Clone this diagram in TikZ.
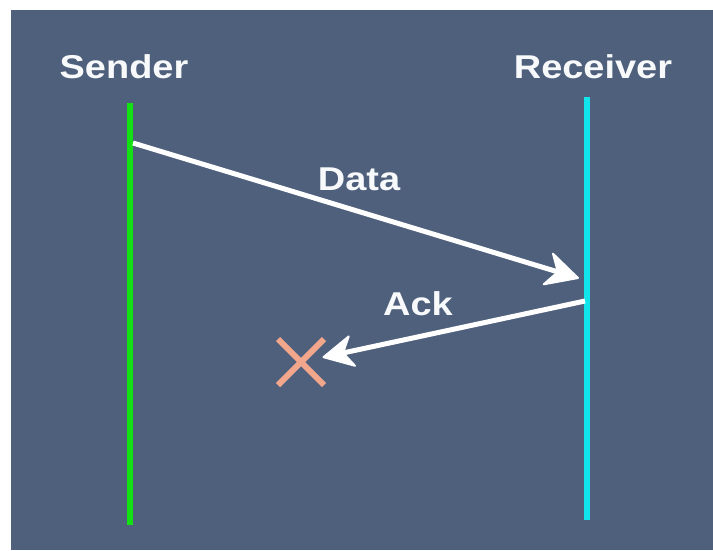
\documentclass[tikz,border=0pt]{standalone}
\usepackage{fontspec}
\newfontfamily\lblfont[FakeStretch=1.15]{Liberation Sans}
\usetikzlibrary{calc,shapes.misc}
\definecolor{panel}{HTML}{4F607D}
\definecolor{sendgreen}{HTML}{12E212}
\definecolor{recvcyan}{HTML}{12E4EC}
\definecolor{lostred}{HTML}{F2A68C}
\tikzset{
  label text/.style={text=white!96!panel, font=\lblfont\bfseries\fontsize{33}{36}\selectfont, inner sep=0pt, anchor=base},
  lifeline/.style={line width=6.5pt},
  msgline/.style={draw=white, line width=5pt},
  msghead/.style={fill=white, draw=white, line width=2pt, line join=round},
}
\begin{document}
\begin{tikzpicture}[x=1pt,y=-1pt]
  \useasboundingbox (0,0) rectangle (713,550);
  \fill[white] (0,0) rectangle (713,550);
  \fill[panel] (11,10) rectangle (713,550);

  % participants
  \node[label text] (sender) at (124,78) {Sender};
  \node[label text] (receiver) at (593,78) {Receiver};

  % lifelines
  \coordinate (stop) at (130,103);
  \coordinate (sbot) at (130,525);
  \coordinate (rtop) at (587,97);
  \coordinate (rbot) at (587,520);
  \draw[lifeline, draw=sendgreen] (stop) -- (sbot);
  \draw[lifeline, draw=recvcyan] (rtop) -- (rbot);

  % data message with a swept arrowhead
  \coordinate (dfrom) at (133,143);
  \coordinate (dto) at (578,278);
  \coordinate (dbase) at ($(dto)!31pt!(dfrom)$);
  \coordinate (dnotch) at ($(dto)!21pt!(dfrom)$);
  \coordinate (dleft) at ($(dbase)!16pt!90:(dto)$);
  \coordinate (dright) at ($(dbase)!16pt!-90:(dto)$);
  \draw[msgline] (dfrom) -- (dnotch);
  \filldraw[msghead] (dto) -- (dleft) -- (dnotch) -- (dright) -- cycle;
  \node[label text] (data) at (359,190) {Data};

  % acknowledgement, lost on the way back
  \node[cross out, draw=lostred, line width=6pt, minimum size=40pt, inner sep=0pt] (lost) at (301,362) {};
  \coordinate (afrom) at (585,301);
  \coordinate (ato) at ($(lost.center)!23pt!(afrom)$);
  \coordinate (abase) at ($(ato)!29pt!(afrom)$);
  \coordinate (anotch) at ($(ato)!20pt!(afrom)$);
  \coordinate (aleft) at ($(abase)!15pt!90:(ato)$);
  \coordinate (aright) at ($(abase)!15pt!-90:(ato)$);
  \draw[msgline] (afrom) -- (anotch);
  \filldraw[msghead] (ato) -- (aleft) -- (anotch) -- (aright) -- cycle;
  \node[label text] (ack) at (418,315) {Ack};
\end{tikzpicture}
\end{document}
